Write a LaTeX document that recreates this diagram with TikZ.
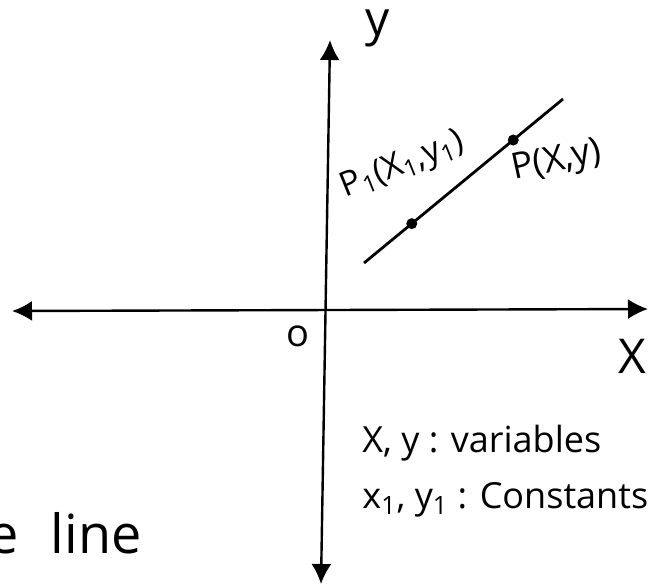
\documentclass[tikz,border=0pt]{standalone}
\usepackage{fontspec}
\setmainfont{Open Sans}
\usetikzlibrary{arrows.meta,calc}
\begin{document}
\begin{tikzpicture}[x=0.5pt,y=-0.5pt,
  axis/.style={line width=1.2pt,{Latex[length=10pt,width=10pt]}-{Latex[length=10pt,width=10pt]}},
  gline/.style={line width=1.4pt},
  dot/.style={circle,fill=black,inner sep=0pt,minimum size=5.5pt},
  lbl/.style={inner sep=0pt,font=\fontsize{18}{20}\selectfont},
  big/.style={inner sep=0pt,font=\fontsize{24}{26}\selectfont}]
\useasboundingbox (0,0) rectangle (659,586);
\coordinate (xl) at (12,311);
\coordinate (xr) at (648,309);
\coordinate (yt) at (330,40);
\coordinate (yb) at (321,584);
\draw[axis] (xl) -- (xr);
\draw[axis] (yb) -- (yt);
\coordinate (la) at (364,263);
\coordinate (lb) at (563,99);
\draw[gline] (la) -- (lb);
\node[dot] (p1) at ($(la)!0.24!(lb)$) {};
\node[dot] (p) at ($(la)!0.75!(lb)$) {};
\node[big] (ylab) at (378,28) {y};
\node[big] (xlab) at (632,356) {X};
\node[inner sep=0pt,font=\fontsize{19}{20}\selectfont] (olab) at (298,336) {o};
\node[inner sep=0pt,font=\fontsize{17}{19}\selectfont,rotate=22] (p1lab) at (403,166) {P\textsubscript{1}(X\textsubscript{1},y\textsubscript{1})};
\node[lbl,rotate=12] (plab) at (557,162) {P(X,y)};
\node[lbl,anchor=base west] (leg1) at (362,452) {X, y : variables};
\node[lbl,anchor=base west] (leg2) at (362,508) {x\textsubscript{1}, y\textsubscript{1} : Constants};
\node[inner sep=0pt,font=\fontsize{27}{29}\selectfont,anchor=base east] (eline) at (142,553) {e\hspace{0.6em}line};
\end{tikzpicture}
\end{document}
